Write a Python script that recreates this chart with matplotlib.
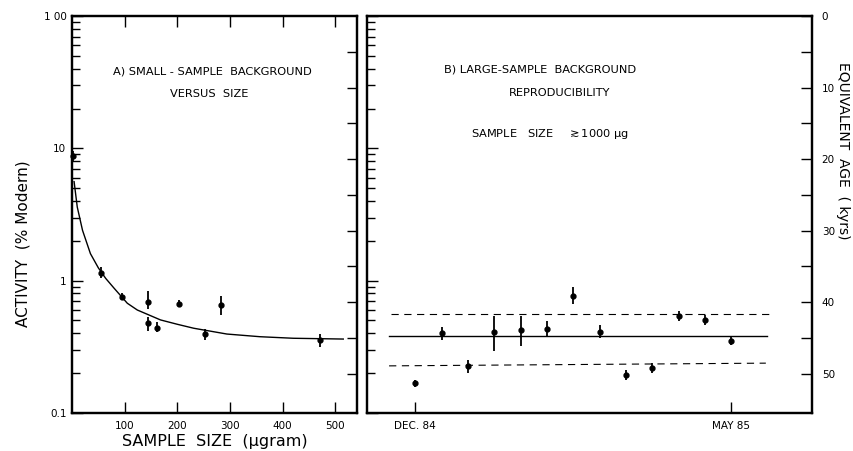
import numpy as np
import matplotlib
matplotlib.use("Agg")
import matplotlib.pyplot as plt

plt.rcParams['font.family'] = ['DejaVu Sans']

# ---- panel A : small-sample background versus size ----
size_ug = [2, 55, 94, 144, 144, 162, 203, 252, 282, 470]
act_a = [8.76, 1.15, 0.757, 0.694, 0.476, 0.442, 0.667, 0.393, 0.659, 0.356]
act_a_lo = [8.0, 1.04, 0.71, 0.606, 0.419, 0.407, 0.63, 0.356, 0.55, 0.314]
act_a_hi = [9.5, 1.27, 0.81, 0.839, 0.535, 0.49, 0.71, 0.429, 0.766, 0.395]

# hand drawn trend curve
curve_x = [4, 10, 20, 35, 50, 64, 80, 105, 124, 143, 168, 200, 231, 294, 357, 420, 515]
curve_y = [5.6, 3.6, 2.4, 1.6, 1.25, 1.04, 0.876, 0.675, 0.60, 0.557, 0.505,
           0.468, 0.437, 0.395, 0.377, 0.367, 0.362]

# ---- panel B : large-sample background reproducibility ----
months = [0, 0.42, 0.84, 1.25, 1.67, 2.09, 2.50, 2.92, 3.34, 3.75, 4.17, 4.59, 5.0]
act_b = [0.168, 0.400, 0.226, 0.412, 0.422, 0.432, 0.771, 0.412, 0.193, 0.220, 0.541, 0.505, 0.352]
act_b_lo = [0.158, 0.356, 0.202, 0.296, 0.321, 0.376, 0.665, 0.37, 0.177, 0.202, 0.496, 0.465, 0.324]
act_b_hi = [0.178, 0.45, 0.252, 0.541, 0.541, 0.496, 0.891, 0.46, 0.21, 0.24, 0.59, 0.548, 0.382]

mean_x = [-0.41, 5.57]
mean_y = [0.384, 0.384]
upper_x = [-0.38, 5.6]
upper_y = [0.557, 0.557]
lower_x = [-0.41, 5.55]
lower_y = [0.227, 0.238]

date_ticks = [0, 5]
date_labels = ['DEC. 84', 'MAY 85']

age_ticks = [0, 10, 20, 30, 40, 50]
MEAN_LIFE = 8.033  # kyr


def age(a):
    return MEAN_LIFE * np.log(100.0 / a)


fig = plt.figure(figsize=(8.54, 4.51), dpi=100)
axA = fig.add_axes([0.0843, 0.0843, 0.3337, 0.8802])
axB = fig.add_axes([0.4297, 0.0843, 0.5211, 0.8802], sharey=axA)

for ax in (axA, axB):
    ax.set_yscale('log')
    ax.set_ylim(0.1, 100)
    for s in ax.spines.values():
        s.set_linewidth(1.6)
    ax.tick_params(which='both', direction='in', width=1.0, labelsize=7.5)
    ax.tick_params(which='major', length=8)
    ax.tick_params(which='minor', length=6)

# panel A
yerr_a = [np.array(act_a) - np.array(act_a_lo), np.array(act_a_hi) - np.array(act_a)]
axA.errorbar(size_ug, act_a, yerr=yerr_a, fmt='o', color='black', ms=3.5,
             elinewidth=1.3, capsize=0, clip_on=False, zorder=3)
axA.plot(curve_x, curve_y, color='black', lw=1.0)
axA.set_xlim(0, 541)
axA.set_xticks([100, 200, 300, 400, 500])
axA.tick_params(axis='x', which='both', top=True, pad=6)
axA.tick_params(axis='y', which='both', right=False, pad=4)
axA.set_yticks([0.1, 1, 10, 100])
axA.set_yticklabels(['0.1', '1', '10', '1 00'])
axA.set_xlabel('SAMPLE  SIZE  (\u03bcgram)', fontsize=11.5, labelpad=2)
axA.text(0.494, 0.86, 'A) SMALL - SAMPLE  BACKGROUND', transform=axA.transAxes,
         ha='center', va='center', fontsize=8.2)
axA.text(0.48, 0.803, 'VERSUS  SIZE', transform=axA.transAxes,
         ha='center', va='center', fontsize=8.2)

axA_r = axA.twinx()
axA_r.set_ylim(age(0.1), age(100))
axA_r.set_yticks(np.arange(5, 55, 5))
axA_r.tick_params(axis='y', direction='in', length=7, width=1.0, labelright=False)
for s in axA_r.spines.values():
    s.set_linewidth(1.6)

# panel B
yerr_b = [np.array(act_b) - np.array(act_b_lo), np.array(act_b_hi) - np.array(act_b)]
axB.errorbar(months, act_b, yerr=yerr_b, fmt='o', color='black', ms=3.5,
             elinewidth=1.3, capsize=0, zorder=3)
axB.plot(mean_x, mean_y, color='black', lw=1.0)
axB.plot(upper_x, upper_y, color='black', lw=0.8, ls=(0, (6.5, 5)))
axB.plot(lower_x, lower_y, color='black', lw=0.8, ls=(0, (6.5, 5)))
axB.set_xlim(-0.76, 6.28)
axB.set_xticks(date_ticks)
axB.set_xticklabels(date_labels)
axB.tick_params(axis='x', which='both', top=False, pad=6)
axB.tick_params(axis='y', which='both', labelleft=False, right=False)
axB.text(0.39, 0.864, 'B) LARGE-SAMPLE  BACKGROUND', transform=axB.transAxes,
         ha='center', va='center', fontsize=8.2)
axB.text(0.434, 0.805, 'REPRODUCIBILITY', transform=axB.transAxes,
         ha='center', va='center', fontsize=8.2)
axB.text(0.411, 0.703, 'SAMPLE   SIZE    $\\gtrsim$1000 \u03bcg', transform=axB.transAxes,
         ha='center', va='center', fontsize=8.2)

axB_r = axB.twinx()
axB_r.set_ylim(age(0.1), age(100))
axB_r.set_yticks(age_ticks)
axB_r.set_yticks(np.arange(5, 55, 10), minor=True)
axB_r.tick_params(axis='y', which='both', direction='in', length=8, width=1.0,
                  labelsize=7.5, pad=7)
for s in axB_r.spines.values():
    s.set_linewidth(1.6)
axB_r.set_ylabel('EQUIVALENT  AGE  ( kyrs)', rotation=270, fontsize=10, labelpad=6)
axB_r.yaxis.set_label_coords(1.085, 0.66)

fig.text(0.027, 0.46, 'ACTIVITY  (% Modern)', rotation=90, ha='center', va='center',
         fontsize=11)

fig.savefig('out.png', dpi=100)
